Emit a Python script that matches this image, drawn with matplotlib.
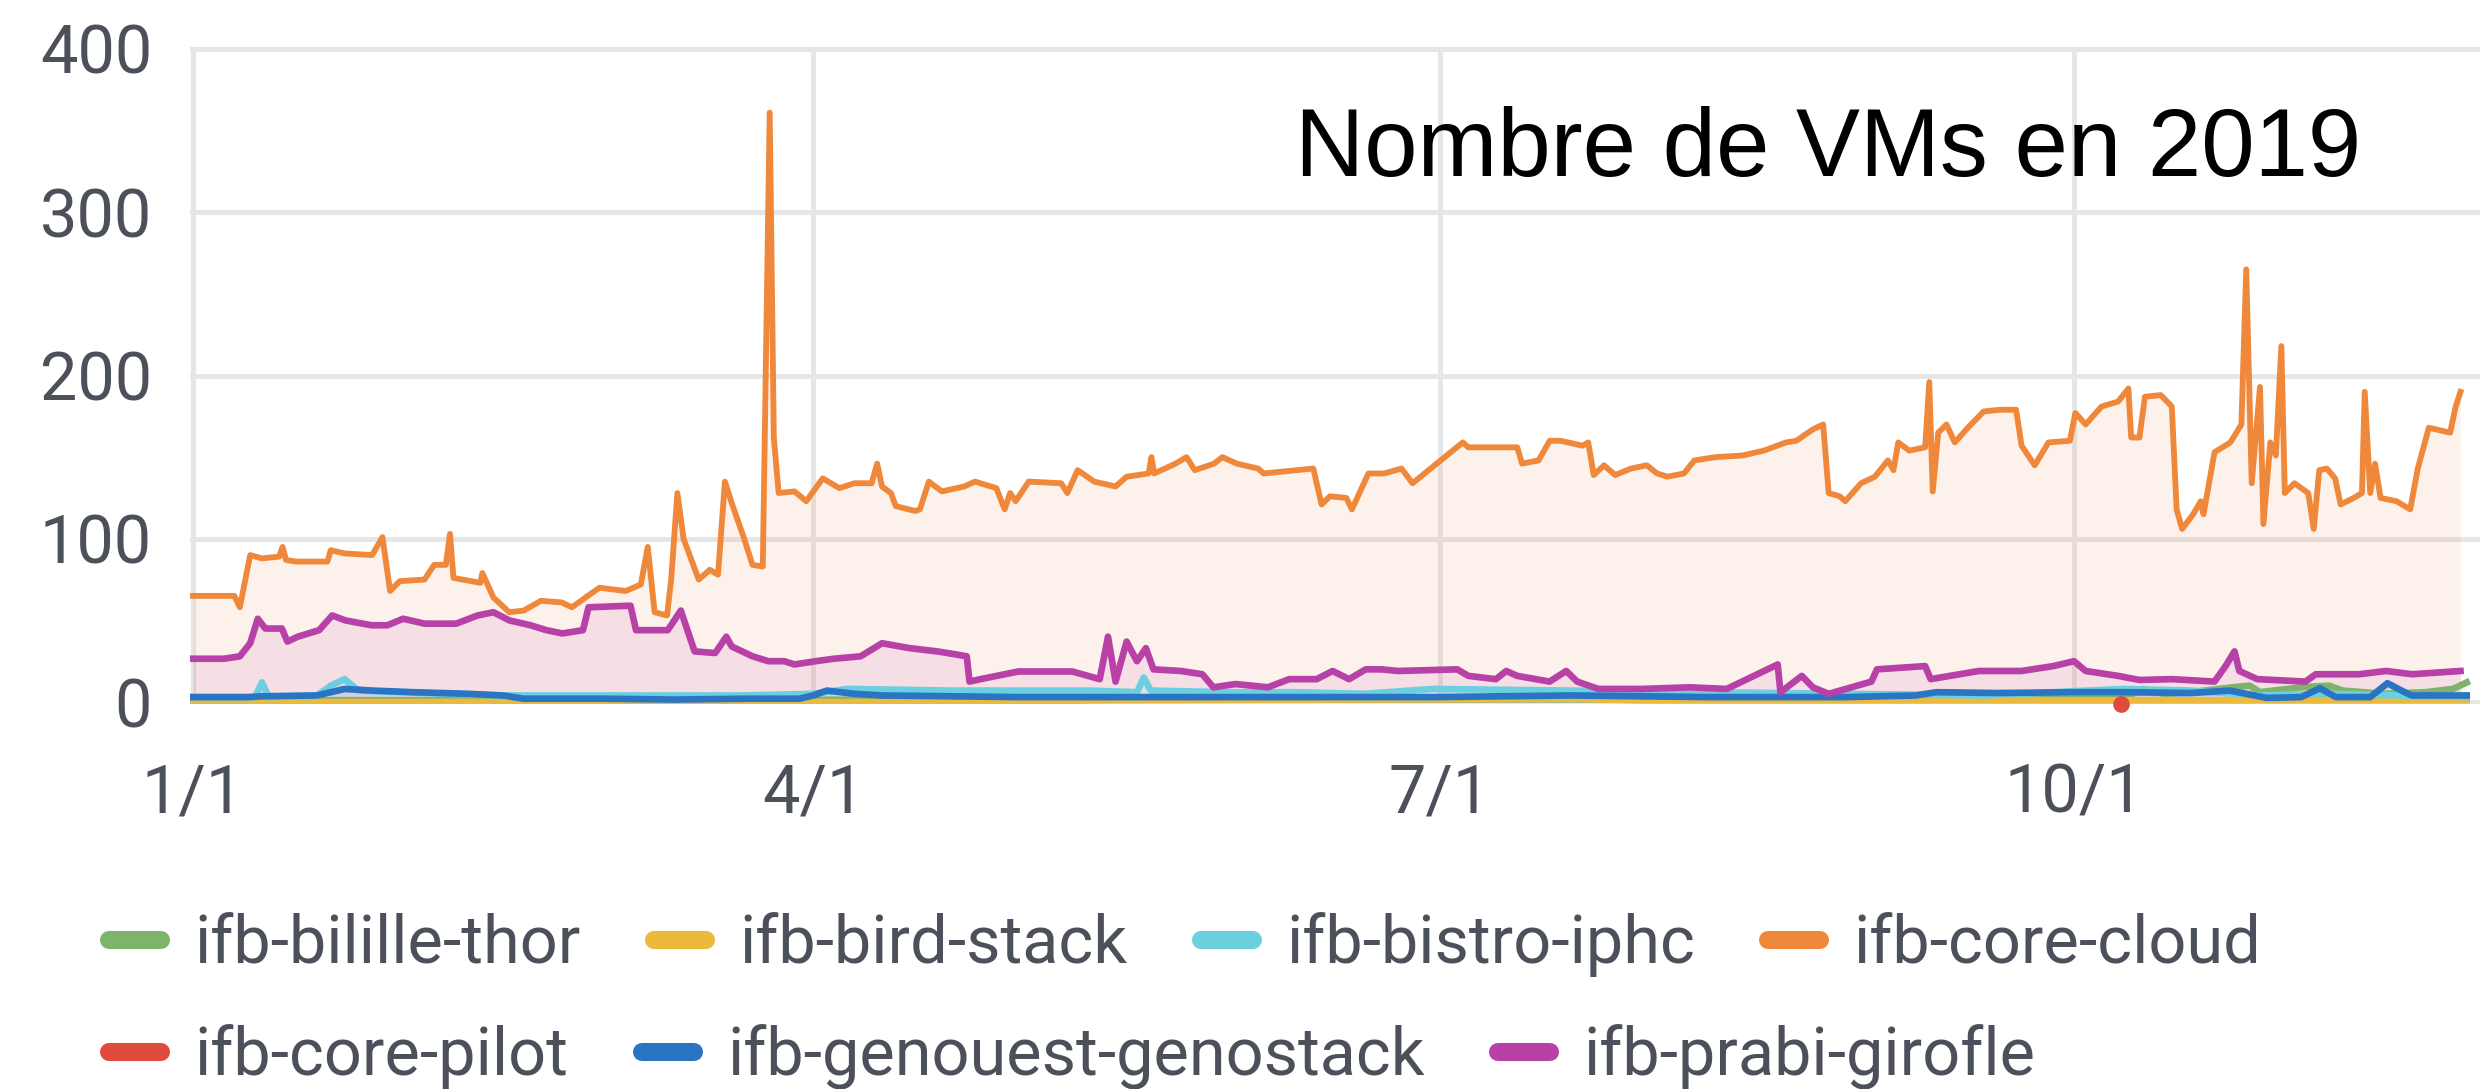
import matplotlib
matplotlib.use("Agg")
import matplotlib.pyplot as plt
from matplotlib.lines import Line2D

# x values are days since 1 Jan 2019
tick_days = [0, 90, 181, 273]
tick_labels = ["1/1", "4/1", "7/1", "10/1"]
y_ticks = [0, 100, 200, 300, 400]

series_names = ["ifb-bilille-thor", "ifb-bird-stack", "ifb-bistro-iphc", "ifb-core-cloud",
                "ifb-core-pilot", "ifb-genouest-genostack", "ifb-prabi-girofle"]
series_colors = ["#7db36b", "#ebb93b", "#6ccfe0", "#f0883b", "#e04b3e", "#2a74c4", "#b841a8"]

bilille_days = [0, 280, 283, 286, 290, 296, 298.5, 300, 304, 306, 310, 312, 318, 324, 328, 330]
bilille_vals = [1, 2, 8, 5, 6, 9, 10, 6, 8, 9, 10, 7, 5, 6, 8, 12]

bird_days = [0, 120, 130, 200, 210, 260, 300, 330]
bird_vals = [0, 0, 1, 2, 1, 1, 1, 1]

bistro_days = [0, 9, 10, 11, 18, 20, 22, 24, 30, 45, 60, 80, 90, 95, 110, 130, 137, 138, 139,
               150, 160, 170, 180, 200, 220, 240, 260, 280, 290, 300, 310, 320, 330]
bistro_vals = [3, 3, 12, 3, 4, 10, 14, 7, 6, 4, 4, 4, 5, 8, 7, 7, 6, 15, 7,
               6, 6, 5, 8, 7, 6, 5, 4, 8, 7, 4, 5, 4, 3]

cloud_days = [0, 6, 6.8, 8.3, 10, 12.5, 13, 13.5, 15, 19.5, 20, 22, 26, 27.5, 28.6, 30, 33.6, 35,
              36.7, 37.3, 37.8, 41.7, 42, 43.6, 45.9, 48, 50.5, 53.5, 55, 57.3, 59, 62.8, 65, 66,
              67, 68.8, 69.4, 70.3, 71.2, 73.4, 75, 76.2, 77.2, 78.1, 80, 81.2, 82.7, 83.7, 84.3,
              85, 87.3, 89, 91.4, 93.8, 96, 98.5, 99.3, 100, 101.3, 102, 104.8, 105.5, 106.8,
              108.7, 111.9, 113.5, 116.6, 117.8, 118.6, 119.4, 121.3, 126, 126.9, 128.4, 130.8,
              133.9, 135.5, 138.7, 139.1, 139.5, 142.6, 144.2, 145.4, 148.2, 149.4, 151.5, 154.6,
              155.4, 162.6, 163.8, 165, 167.4, 168.2, 170.6, 172.9, 175.4, 177, 184.3, 185.1,
              192.2, 192.9, 195.3, 196.9, 198.5, 201.7, 202.5, 203.3, 204.8, 206.4, 208.7, 211,
              212.5, 214, 216.4, 217.9, 221, 224.9, 228, 231.2, 232.7, 235.1, 236.6, 237.4, 239,
              239.8, 242.1, 244.1, 246, 246.8, 247.5, 249.1, 251.4, 252, 252.5, 253.3, 254.5,
              255.7, 257.6, 259.9, 262.3, 264.6, 265.4, 267.3, 269.3, 272.4, 273.2, 274.7, 277,
              279.4, 280.9, 281.3, 282.5, 283.3, 285.6, 287.2, 287.9, 288.7, 290.3, 291.4, 291.8,
              293.4, 295.7, 297.3, 298, 298.8, 300, 300.5, 301.5, 302.3, 303.1, 303.6, 305, 307,
              307.8, 308.6, 309.7, 310.9, 311.7, 313.6, 314.8, 315.2, 316, 316.7, 317.5, 319.8,
              321.8, 322.9, 324.5, 327.6, 328.4, 329.1]
cloud_vals = [65, 65, 58, 90, 88, 89, 95, 87, 86, 86, 93, 91, 90, 101, 68, 74, 75, 84,
              84, 103, 76, 73, 79, 64, 55, 56, 62, 61, 58, 65, 70, 68, 72, 95,
              55, 53, 75, 128, 100, 75, 81, 78, 135, 123, 100, 84, 83, 361, 162,
              128, 129, 123, 137, 131, 134, 134, 146, 132, 128, 120, 117, 118, 135,
              129, 132, 135, 131, 118, 128, 123, 135, 134, 128, 142, 135,
              132, 138, 140, 150, 140, 146, 150, 142, 146, 150, 146, 143,
              140, 143, 121, 126, 125, 118, 140, 140, 143, 134, 159, 156,
              156, 146, 148, 160, 160, 157, 159, 139, 145, 139, 143, 145,
              140, 138, 140, 148, 150, 151, 154, 159, 160, 167, 170, 128, 126,
              123, 134, 138, 148, 142, 159, 154, 156, 196, 129, 165, 170,
              159, 168, 178, 179, 179, 157, 145, 159, 160, 177, 170, 181,
              184, 192, 162, 162, 187, 188, 181, 118, 106, 115, 123, 115,
              153, 159, 170, 265, 134, 193, 109, 159, 151, 218, 128, 134, 128,
              106, 142, 143, 137, 121, 125, 128, 190, 128, 146, 125, 123,
              118, 143, 168, 165, 181, 190]

pilot_days = [279.8]
pilot_vals = [-1]

genouest_days = [0, 8, 10, 18, 20, 22, 26, 32, 40, 45, 48, 60, 70, 80, 88, 90, 92, 96, 100, 120,
                 140, 160, 180, 200, 220, 240, 250, 253, 262, 273, 281, 290, 295.6, 301, 306,
                 308.7, 311, 316, 318.5, 321, 322, 330]
genouest_vals = [3, 3, 3.5, 4, 6, 8, 7, 6, 5, 4, 2, 2, 1.5, 2, 2, 4, 7, 5, 4, 3,
                 3, 3, 3, 4, 3, 3, 4, 6, 5.5, 6, 6, 5.5, 7, 2.5, 3, 8.5, 3, 3, 11.5, 6, 4, 4]

prabi_days = [0, 4.5, 6.8, 8.3, 9.4, 10.5, 12.9, 13.7, 15.2, 18.3, 20.2, 22.1, 25.9, 28.2, 30.5,
              33.6, 38.2, 41.3, 43.6, 45.9, 49, 51.3, 53.6, 56.6, 57.4, 63.5, 64.3, 68.9, 70.8,
              72.8, 75.8, 77.4, 78.2, 81.2, 83.5, 85.8, 87.3, 90.4, 93, 96.9, 100, 104, 108,
              109.5, 112.3, 112.7, 114.3, 119.8, 127.6, 131.6, 132.8, 133.9, 135.5, 137, 138.3,
              139.4, 143.4, 146.5, 148.1, 151.3, 156, 159.1, 163.1, 165.4, 167.8, 170.2, 172.5,
              174.9, 183.5, 185.1, 189.1, 190.6, 192.2, 196.9, 199.3, 200.9, 204, 210.3, 217.2,
              222.6, 230, 230.4, 233.5, 235.1, 237.4, 243.6, 244.4, 251.4, 252.2, 259.2, 265.4,
              270, 273, 274.7, 279.4, 282.5, 287.2, 293.4, 295, 296.3, 297, 299.6, 306.6, 308.1,
              314.4, 318.3, 322.1, 329.1]
prabi_vals = [26.5, 26.5, 28, 36, 51, 45, 45, 37, 40, 44, 53, 50, 47, 47, 51,
              48, 48, 53, 55, 50, 47, 44, 42, 44, 58, 59, 44, 44, 56,
              31, 30, 40, 34, 28, 25, 25, 23, 25, 26.5, 28, 36, 33, 31,
              30, 28, 12.5, 14, 18.7, 18.7, 14, 40, 12.5, 37, 25, 33,
              20, 19, 17, 9, 11, 9, 14, 14, 19, 14, 20, 20,
              19, 20, 16, 14, 19, 16, 12.5, 19, 12.5, 8, 8, 9,
              8, 23, 6, 16, 9, 5, 12.5, 20, 22, 14, 19, 19,
              22, 25, 19, 16, 13.5, 14, 12.5, 22, 31, 19, 14, 12.5, 17,
              17, 19, 17, 19]

all_days = [bilille_days, bird_days, bistro_days, cloud_days, pilot_days, genouest_days, prabi_days]
all_vals = [bilille_vals, bird_vals, bistro_vals, cloud_vals, pilot_vals, genouest_vals, prabi_vals]

text_gray = "#4c505a"
grid_gray = "#e6e6e6"

plt.rcParams["font.family"] = ["Roboto", "DejaVu Sans"]

fig = plt.figure(figsize=(24.8, 10.89), dpi=100)
# axes placed so that 1/1 sits at x=193px, 0 at y=702px, 400 at y=49px
px_day = 6.89
px_unit = 1.6325
x0 = -0.5
x1 = (2480 - 193) / px_day
y0, y1 = -1.5, 401.5
left = (193 + x0 * px_day) / 2480
bottom = 1 - (702 - y0 * px_unit) / 1089
height = (y1 - y0) * px_unit / 1089
ax = fig.add_axes([left, bottom, 1 - left, height])
ax.set_xlim(x0, x1)
ax.set_ylim(y0, y1)

for name, col, d, v in zip(series_names, series_colors, all_days, all_vals):
    if len(d) == 1:
        ax.plot(d, v, "o", color=col, ms=11, clip_on=False, zorder=3)
        continue
    ax.fill_between(d, v, 0, color=col, alpha=0.1, lw=0, zorder=1)
    lw = 4.2 if name == "ifb-core-cloud" else 4.8
    ax.plot(d, v, color=col, lw=lw, solid_joinstyle="round", zorder=2)

ax.set_xticks(tick_days)
ax.set_xticklabels(tick_labels)
ax.set_yticks(y_ticks)
ax.grid(True, color=grid_gray, lw=3.6, zorder=0)
ax.set_axisbelow(True)
for s in ax.spines.values():
    s.set_visible(False)
ax.tick_params(axis="both", length=0, labelsize=48, labelcolor=text_gray)
ax.tick_params(axis="y", pad=27)
ax.tick_params(axis="x", pad=42)

fig.text(1295 / 2480, 1 - 176 / 1089, "Nombre de VMs en 2019", fontsize=69,
         family=["Liberation Sans", "DejaVu Sans"], color="black", ha="left", va="baseline")

handles = [Line2D([], [], color=c, lw=13, solid_capstyle="round") for c in series_colors]
legend_kw = dict(loc="center left", frameon=False, fontsize=48, handlelength=0.78,
                 handletextpad=0.5, columnspacing=1.1, borderpad=0, borderaxespad=0,
                 labelcolor=text_gray)
fig.legend(handles[:4], series_names[:4], ncol=4, bbox_to_anchor=(0.044, 1 - 945 / 1089), **legend_kw)
fig.legend(handles[4:], series_names[4:], ncol=3, bbox_to_anchor=(0.044, 1 - 1057 / 1089), **legend_kw)

fig.savefig("out.png", dpi=100)
